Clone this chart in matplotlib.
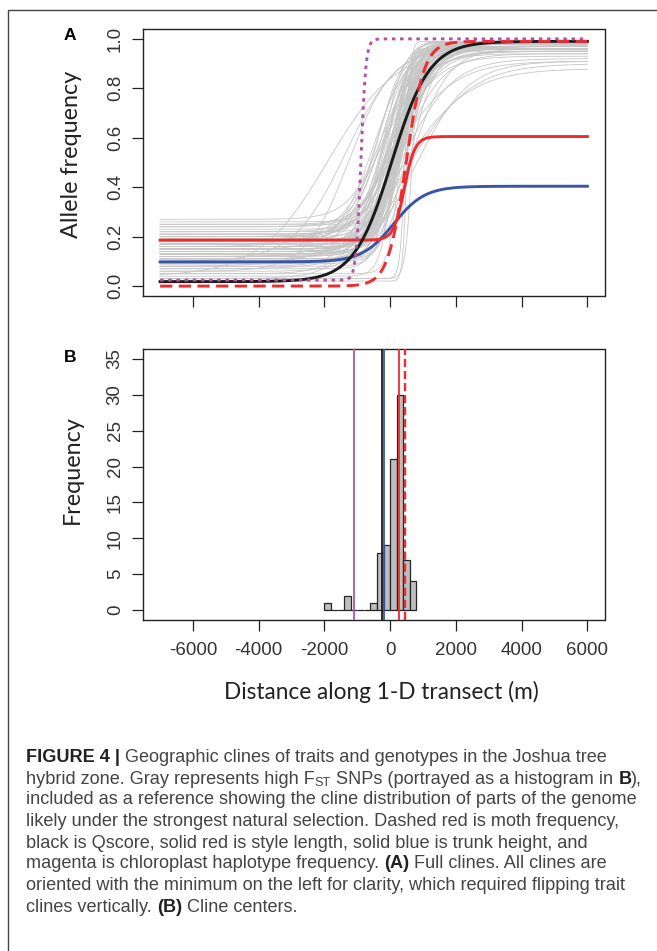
import numpy as np
import matplotlib
matplotlib.use("Agg")
import matplotlib.pyplot as plt
from matplotlib.lines import Line2D

# ---- data ----------------------------------------------------------------
# high-F_ST SNP clines: centre (m), width (m), left / right allele frequency
snp_center = [-1900, -1350, -1250, -500,
              -385, -350, -330, -300, -275, -260, -235, -210,
              -190, -170, -140, -120, -95, -75, -50, -35, -10,
              10, 25, 35, 45, 60, 70, 80, 95, 105, 115, 125, 135, 145, 150,
              160, 170, 175, 180, 185, 190, 195,
              205, 210, 215, 222, 228, 235, 240, 248, 255, 260, 266, 272,
              280, 286, 292, 300, 305, 312, 318, 325, 332, 338, 345, 352,
              358, 365, 372, 380, 388, 395,
              420, 450, 480, 510, 530, 560, 585,
              620, 660, 720, 780]
snp_width = [4200, 3200, 2600, 2200,
             1800, 2400, 1500, 2000, 2800, 1700, 1300, 2200,
             1600, 2100, 1200, 1900, 2500, 1400, 1700, 2300, 1100,
             1500, 1800, 1000, 2200, 1300, 1700, 2600, 1200, 1900, 1400, 800,
             2000, 1600, 3500, 1100, 1800, 1300, 2400, 900, 1500, 2100,
             1400, 1700, 1100, 2000, 1500, 900, 1800, 1300, 2300, 1600, 1200,
             1900, 1000, 1500, 2100, 1400, 1700, 700, 1600, 2500, 1300, 1800,
             1100, 2000, 1500, 4000, 1200, 1700, 1400, 1900,
             1300, 300, 1800, 250, 2900, 1500, 3800,
             1600, 400, 2200, 3200]
snp_pmin = [0.04, 0.10, 0.06, 0.15,
            0.20, 0.12, 0.25, 0.08, 0.17, 0.22, 0.14, 0.05,
            0.16, 0.27, 0.11, 0.19, 0.03, 0.23, 0.13, 0.18, 0.09,
            0.14, 0.21, 0.07, 0.17, 0.26, 0.12, 0.19, 0.10, 0.24, 0.15, 0.04,
            0.20, 0.13, 0.16, 0.22, 0.09, 0.18, 0.11, 0.25, 0.15, 0.06,
            0.13, 0.18, 0.08, 0.21, 0.15, 0.11, 0.19, 0.16, 0.24, 0.12, 0.17,
            0.14, 0.10, 0.20, 0.16, 0.13, 0.18, 0.05, 0.15, 0.12, 0.19, 0.14,
            0.17, 0.21, 0.11, 0.08, 0.16, 0.13, 0.18, 0.15,
            0.17, 0.03, 0.12, 0.02, 0.20, 0.14, 0.09,
            0.10, 0.03, 0.15, 0.07]
snp_pmax = [0.97, 0.98, 0.96, 0.99,
            0.99, 0.97, 0.98, 0.99, 0.95, 0.98, 0.99, 0.97,
            0.98, 0.99, 0.96, 0.99, 0.97, 0.98, 0.99, 0.94, 0.98,
            0.99, 0.98, 0.97, 0.99, 0.96, 0.98, 0.93, 0.99, 0.97, 0.98, 0.99,
            0.96, 0.98, 0.91, 0.99, 0.97, 0.98, 0.95, 0.99, 0.98, 0.97,
            0.98, 0.99, 0.97, 0.98, 0.99, 0.96, 0.98, 0.99, 0.97, 0.98, 0.99,
            0.96, 0.98, 0.99, 0.95, 0.98, 0.97, 0.99, 0.98, 0.94, 0.99, 0.97,
            0.98, 0.96, 0.99, 0.88, 0.98, 0.97, 0.99, 0.95,
            0.97, 0.96, 0.98, 0.99, 0.92, 0.98, 0.90,
            0.97, 0.95, 0.96, 0.91]

# trait / genotype clines (panel A, coloured)
trait_names = ["trunk", "style", "qscore", "moth", "chloroplast"]
trait_center = [100, 430, 50, 480, -890]
trait_width = [1900, 650, 2300, 1100, 300]
trait_pmin = [0.098, 0.186, 0.018, 0.0, 0.024]
trait_pmax = [0.404, 0.605, 0.99, 0.99, 1.0]

# cline centres (panel B vertical lines)
centre_names = ["chloroplast", "qscore", "trunk", "style", "moth"]
centre_pos = [-1100, -240, -195, 268, 441]

x_ticks = [-6000, -4000, -2000, 0, 2000, 4000, 6000]
a_yticks = [0.0, 0.2, 0.4, 0.6, 0.8, 1.0]
b_yticks = [0, 5, 10, 15, 20, 25, 30, 35]
hist_bins = np.arange(-2000, 801, 200)

STYLE = {
    "trunk":       dict(color="#3b55a6", ls="-"),
    "style":       dict(color="#ee2b2e", ls="-"),
    "qscore":      dict(color="#1a1a1a", ls="-"),
    "moth":        dict(color="#ee2b2e", ls=(0, (4.2, 2.2))),
    "chloroplast": dict(color="#b153a5", ls=(0, (1.2, 1.6))),
}

W, H = 657, 951
TICK_FONT = "Liberation Sans"
LAB_FONT = "Lato"
CAP_FONT = "Liberation Sans"


def fx(x):
    return x / W


def fy(y):
    return 1 - y / H


def cline(x, c, w, pmin, pmax):
    return pmin + (pmax - pmin) / (1 + np.exp(-4 * (x - c) / w))


def style_axes(ax):
    for sp in ax.spines.values():
        sp.set_linewidth(1.0)
        sp.set_color("#222222")
    ax.tick_params(direction="out", length=7.8, width=0.9, color="#222222",
                   labelsize=13.5, pad=8)
    ax.tick_params(axis="y", labelrotation=90, pad=6)
    for lbl in ax.get_yticklabels() + ax.get_xticklabels():
        lbl.set_fontfamily(TICK_FONT)
        lbl.set_color("#333333")
    for lbl in ax.get_yticklabels():
        lbl.set_va("center")


fig = plt.figure(figsize=(W / 100, H / 100), dpi=100)

# ---- panel A: full clines -------------------------------------------------
axA = fig.add_axes([fx(143), fy(296), fx(604.5) - fx(143), fy(29) - fy(296)])
xs = np.linspace(-7000, 6000, 700)
for c, w, lo, hi in zip(snp_center, snp_width, snp_pmin, snp_pmax):
    axA.plot(xs, cline(xs, c, w, lo, hi), color="#c6c6c6", lw=0.6, zorder=1)
for name, c, w, lo, hi in zip(trait_names, trait_center, trait_width,
                              trait_pmin, trait_pmax):
    st = STYLE[name]
    axA.plot(xs, cline(xs, c, w, lo, hi), color=st["color"],
             linestyle=st["ls"], lw=2.1, zorder=3)
axA.set_xlim(-7520, 6520)
axA.set_ylim(-0.04, 1.04)
axA.set_xticks(x_ticks)
axA.set_xticklabels([])
axA.set_yticks(a_yticks)
axA.set_yticklabels([f"{v:.1f}" for v in a_yticks])
style_axes(axA)

# ---- panel B: cline centres -----------------------------------------------
axB = fig.add_axes([fx(143), fy(620), fx(604.5) - fx(143), fy(349) - fy(620)])
axB.hist(snp_center, bins=hist_bins, color="#bebebe", edgecolor="#262626",
         linewidth=0.9, zorder=1)
for name, pos in zip(centre_names, centre_pos):
    st = STYLE[name]
    ls = (0, (3.5, 1.6)) if name == "moth" else "-"
    axB.axvline(pos, color=st["color"], linestyle=ls,
                lw=1.7 if name == "moth" else 1.3, zorder=3)
axB.set_xlim(-7520, 6520)
axB.set_ylim(-1.4, 36.4)
axB.set_xticks(x_ticks)
axB.set_xticklabels([str(v) for v in x_ticks])
axB.set_yticks(b_yticks)
axB.set_yticklabels([str(v) for v in b_yticks])
style_axes(axB)

# ---- labels ---------------------------------------------------------------
fig.text(fx(70), fy(36), "A", fontsize=12.5, weight="bold", family=TICK_FONT,
         ha="center", va="center")
fig.text(fx(70), fy(357), "B", fontsize=12.5, weight="bold", family=TICK_FONT,
         ha="center", va="center")
fig.text(fx(72), fy(154), "Allele frequency", rotation=90, fontsize=16.8,
         family=LAB_FONT, ha="center", va="center", color="#222222")
fig.text(fx(72), fy(470), "Frequency", rotation=90, fontsize=16.8,
         family=LAB_FONT, ha="center", va="center", color="#222222")
fig.text(fx(381), fy(692), "Distance along 1-D transect (m)", fontsize=16.3,
         family=LAB_FONT, ha="center", va="center", color="#222222")

# outer frame (only left and top edges fall inside the crop)
fig.add_artist(Line2D([fx(8), fx(8), fx(657)], [fy(951), fy(10), fy(10)],
                      color="#444444", lw=1.0))

# ---- caption ----------------------------------------------------------------
caption = [
    [("FIGURE 4 | ", "b"), ("Geographic clines of traits and genotypes in the Joshua tree", "n")],
    [("hybrid zone. Gray represents high F", "n"), ("ST", "s"),
     (" SNPs (portrayed as a histogram in ", "n"), ("B", "b"), ("),", "n")],
    [("included as a reference showing the cline distribution of parts of the genome", "n")],
    [("likely under the strongest natural selection. Dashed red is moth frequency,", "n")],
    [("black is Qscore, solid red is style length, solid blue is trunk height, and", "n")],
    [("magenta is chloroplast haplotype frequency. ", "n"), ("(A)", "b"),
     (" Full clines. All clines are", "n")],
    [("oriented with the minimum on the left for clarity, which required flipping trait", "n")],
    [("clines vertically. ", "n"), ("(B)", "b"), (" Cline centers.", "n")],
]
cap_y = [757, 779, 800, 821, 843, 864, 885, 907]
CAP_SIZE = 13.1

fig.canvas.draw()
renderer = fig.canvas.get_renderer()
for runs, y in zip(caption, cap_y):
    x = 26
    for txt, kind in runs:
        kw = dict(family=CAP_FONT, fontsize=CAP_SIZE, va="center",
                  ha="left", color="#444444")
        yy = y
        if kind == "b":
            kw["weight"] = "bold"
            kw["color"] = "#222222"
        elif kind == "s":
            kw["fontsize"] = CAP_SIZE * 0.7
            yy = y + 4
        t = fig.text(fx(x), fy(yy), txt, **kw)
        x += t.get_window_extent(renderer).width

fig.savefig("out.png", dpi=100, facecolor="white")
